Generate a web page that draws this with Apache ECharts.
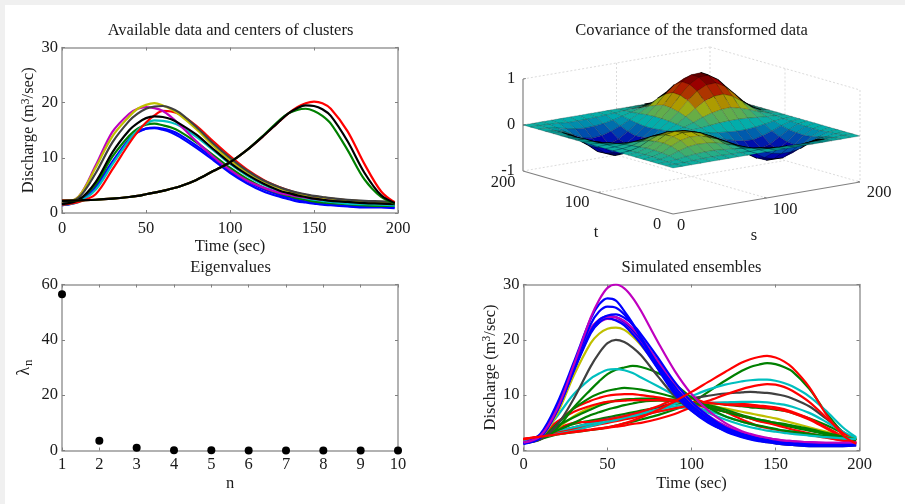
<!DOCTYPE html>
<html>
<head>
<meta charset="utf-8">
<style>
  html, body { margin: 0; padding: 0; background: #fff; }
  #main { width: 905px; height: 504px; }
</style>
<script src="https://cdn.jsdelivr.net/npm/echarts@6/dist/echarts.min.js"></script>
</head>
<body>
<div id="main"></div>
<script>
// sample times shared by every hydrograph, closer around the two humps
var times = [0, 10, 20, 30, 40, 45, 50, 55, 60, 65, 70, 80, 90, 100, 110, 120, 130, 135, 140, 145, 150, 155, 160, 170, 180, 190, 198]

// top left: available data and cluster centres
var dataBlueA = [1.4, 2.1, 4.6, 9.1, 13.2, 14.6, 15.3, 15.5, 15.3, 14.9, 14.2, 12.2, 10.0, 7.7, 5.8, 4.3, 3.2, 2.8, 2.4, 2.1, 1.9, 1.7, 1.5, 1.3, 1.2, 1.1, 1.0]
var dataBlueB = [1.4, 2.2, 4.9, 9.3, 13.4, 14.7, 15.3, 15.4, 15.1, 14.6, 13.8, 11.8, 9.6, 7.3, 5.4, 3.9, 2.9, 2.5, 2.1, 1.9, 1.7, 1.5, 1.4, 1.2, 1.0, 1.0, 0.9]
var dataGreenEarly = [1.5, 2.4, 5.2, 10.2, 14.0, 15.3, 16.0, 16.2, 15.9, 15.5, 14.8, 12.8, 10.5, 8.2, 6.2, 4.6, 3.5, 3.1, 2.7, 2.4, 2.1, 1.9, 1.8, 1.6, 1.4, 1.3, 1.3]
var dataRedEarly = [1.5, 2.0, 3.4, 7.9, 12.6, 14.7, 16.4, 17.7, 18.5, 18.4, 17.9, 15.8, 13.0, 10.3, 7.9, 6.0, 4.6, 4.1, 3.6, 3.3, 3.0, 2.8, 2.6, 2.3, 2.1, 1.9, 1.8]
var dataCyan = [1.5, 2.0, 4.2, 8.8, 13.2, 15.0, 16.2, 16.8, 16.7, 16.4, 15.8, 13.8, 11.4, 8.9, 6.8, 5.1, 3.9, 3.4, 3.0, 2.7, 2.4, 2.2, 2.0, 1.7, 1.6, 1.5, 1.4]
var dataMagenta = [1.6, 3.0, 8.6, 14.7, 18.0, 18.9, 19.2, 19.0, 18.5, 17.4, 16.0, 13.0, 10.2, 7.8, 5.9, 4.6, 3.6, 3.3, 3.0, 2.8, 2.6, 2.4, 2.3, 2.1, 1.9, 1.8, 1.7]
var dataYellow = [1.7, 3.0, 8.2, 13.9, 17.5, 18.9, 19.6, 19.9, 19.5, 18.8, 17.8, 15.2, 12.2, 9.6, 7.4, 5.7, 4.4, 3.9, 3.5, 3.2, 3.0, 2.8, 2.6, 2.3, 2.1, 2.0, 1.9]
var dataGrey = [1.7, 2.8, 7.2, 12.8, 16.7, 18.0, 18.9, 19.3, 19.4, 19.0, 18.2, 15.6, 12.6, 10.0, 7.7, 5.9, 4.6, 4.1, 3.7, 3.4, 3.1, 2.9, 2.7, 2.4, 2.2, 2.1, 2.0]
var centerEarly = [1.6, 2.4, 5.6, 11.0, 15.0, 16.3, 17.2, 17.5, 17.4, 17.0, 16.2, 14.2, 11.6, 9.1, 7.0, 5.3, 4.0, 3.6, 3.2, 2.9, 2.6, 2.4, 2.2, 2.0, 1.8, 1.7, 1.6]
var dataRedLate = [2.3, 2.3, 2.4, 2.6, 2.9, 3.1, 3.4, 3.7, 4.0, 4.4, 4.8, 6.0, 7.6, 9.2, 11.4, 14.0, 16.8, 18.1, 19.2, 19.9, 20.2, 19.9, 18.9, 14.8, 8.9, 3.9, 1.9]
var dataGreenLate = [2.2, 2.3, 2.4, 2.6, 2.9, 3.1, 3.4, 3.7, 4.0, 4.4, 4.8, 6.0, 7.6, 9.2, 11.4, 14.1, 17.0, 18.1, 18.7, 18.9, 18.5, 17.6, 16.2, 11.4, 6.1, 2.9, 1.7]
var centerLate = [2.2, 2.3, 2.4, 2.6, 2.9, 3.1, 3.4, 3.7, 4.0, 4.4, 4.8, 6.0, 7.6, 9.2, 11.4, 14.0, 16.8, 18.1, 19.0, 19.5, 19.4, 18.8, 17.6, 13.0, 7.3, 3.2, 1.8]

// bottom left: eigenvalues
var eigenN = [1, 2, 3, 4, 5, 6, 7, 8, 9, 10]
var eigenValues = [56.5, 3.5, 1.0, 0.1, 0.05, 0, 0, 0, 0, 0]

// bottom right: simulated ensembles
var simMagentaA = [1.4, 2.6, 7.5, 15.5, 24.0, 27.2, 29.4, 30.0, 29.3, 27.6, 25.2, 19.6, 14.4, 10.2, 7.2, 5.0, 3.5, 3.0, 2.6, 2.3, 2.0, 1.8, 1.7, 1.5, 1.4, 1.4, 1.4]
var simMagentaB = [1.5, 2.6, 7.4, 15.0, 22.0, 23.6, 24.2, 24.1, 23.4, 22.1, 20.4, 16.2, 12.2, 8.8, 6.3, 4.5, 3.2, 2.8, 2.5, 2.2, 2.0, 1.8, 1.7, 1.5, 1.4, 1.4, 1.4]
var simMagentaC = [1.4, 2.5, 7.2, 14.5, 21.4, 23.1, 23.8, 23.6, 22.8, 21.4, 19.6, 15.4, 11.4, 8.2, 5.8, 4.2, 3.0, 2.6, 2.3, 2.0, 1.8, 1.6, 1.5, 1.4, 1.3, 1.3, 1.3]
var simBlueA = [1.3, 3.0, 8.5, 16.0, 23.8, 26.4, 27.5, 27.1, 25.2, 23.0, 20.3, 14.8, 10.2, 7.2, 5.0, 3.6, 2.6, 2.3, 2.0, 1.8, 1.6, 1.4, 1.3, 1.2, 1.2, 1.3, 1.4]
var simBlueB = [1.3, 2.5, 7.8, 15.4, 22.8, 25.1, 26.0, 25.8, 24.6, 22.7, 20.4, 15.4, 11.0, 7.8, 5.6, 3.9, 2.8, 2.4, 2.1, 1.9, 1.7, 1.5, 1.4, 1.3, 1.2, 1.2, 1.3]
var simBlueC = [1.3, 2.3, 7.2, 14.6, 21.6, 23.6, 24.4, 24.6, 24.0, 22.8, 21.0, 16.8, 12.4, 8.8, 6.2, 4.2, 3.0, 2.6, 2.2, 1.9, 1.7, 1.5, 1.4, 1.2, 1.1, 1.1, 1.2]
var simBlueD = [1.3, 2.4, 7.4, 14.6, 21.6, 23.5, 24.3, 24.1, 23.2, 21.8, 20.0, 15.8, 11.6, 8.2, 5.8, 4.0, 2.8, 2.4, 2.0, 1.7, 1.5, 1.3, 1.2, 1.0, 0.9, 0.9, 1.0]
var simBlueE = [1.2, 2.3, 7.2, 14.4, 21.2, 23.1, 23.9, 23.5, 22.6, 21.0, 19.2, 14.8, 10.6, 7.4, 5.2, 3.5, 2.4, 2.0, 1.7, 1.5, 1.3, 1.1, 1.0, 0.8, 0.8, 0.8, 0.9]
var simYellowHigh = [1.4, 2.3, 6.6, 13.6, 19.4, 21.1, 22.0, 22.2, 21.8, 20.6, 19.0, 15.2, 11.4, 8.3, 6.0, 4.2, 3.0, 2.6, 2.3, 2.1, 1.9, 1.7, 1.6, 1.4, 1.3, 1.3, 1.3]
var simYellowFlat = [1.5, 2.1, 4.0, 6.2, 7.8, 8.4, 8.8, 9.0, 9.2, 9.3, 9.3, 9.2, 9.0, 8.6, 8.2, 7.6, 7.0, 6.7, 6.4, 6.1, 5.8, 5.4, 5.0, 4.2, 3.4, 2.6, 2.0]
var simGreyHigh = [1.4, 2.0, 4.6, 9.4, 15.2, 17.6, 19.4, 20.0, 19.6, 18.6, 17.2, 13.4, 9.8, 7.2, 5.2, 3.6, 2.5, 2.1, 1.8, 1.5, 1.3, 1.1, 1.0, 0.8, 0.8, 0.8, 0.9]
var simGreyLate = [1.6, 2.4, 3.4, 4.2, 5.0, 5.4, 5.8, 6.0, 6.3, 6.6, 7.0, 7.8, 8.6, 9.4, 9.9, 10.3, 10.5, 10.6, 10.5, 10.4, 10.2, 9.9, 9.4, 8.0, 5.8, 3.4, 1.9]
var simCyanEarly = [1.6, 2.6, 6.2, 10.2, 13.0, 13.9, 14.6, 14.7, 14.5, 14.0, 13.2, 11.6, 10.0, 8.4, 6.8, 5.6, 4.6, 4.2, 3.9, 3.6, 3.4, 3.2, 3.0, 2.7, 2.4, 2.2, 2.1]
var simCyanLate = [1.7, 2.4, 3.0, 3.6, 4.4, 4.8, 5.2, 5.5, 5.9, 6.2, 6.6, 7.4, 8.4, 9.8, 11.0, 11.9, 12.5, 12.7, 12.8, 12.8, 12.6, 12.2, 11.6, 9.8, 7.2, 4.2, 2.4]
var simCyanFlat = [1.8, 2.5, 3.4, 4.2, 4.9, 5.2, 5.6, 5.9, 6.2, 6.5, 6.8, 7.4, 8.0, 8.4, 8.6, 8.7, 8.8, 8.8, 8.8, 8.7, 8.5, 8.3, 7.9, 6.8, 5.2, 3.4, 2.2]
var simCyanLow = [1.7, 2.4, 3.2, 3.9, 4.6, 4.9, 5.2, 5.5, 5.8, 6.1, 6.4, 7.0, 7.6, 7.8, 7.2, 6.2, 5.2, 4.8, 4.4, 4.1, 3.8, 3.6, 3.4, 3.0, 2.6, 2.3, 2.1]
var simGreenHigh = [1.4, 2.0, 4.0, 7.8, 11.0, 12.5, 13.8, 14.6, 15.0, 15.3, 15.1, 14.0, 12.0, 9.6, 7.8, 6.2, 5.2, 4.8, 4.5, 4.2, 3.9, 3.6, 3.4, 3.0, 2.6, 2.2, 2.0]
var simGreenMid = [1.4, 2.2, 4.8, 7.6, 9.6, 10.3, 10.8, 11.1, 11.3, 11.2, 11.0, 10.4, 9.6, 8.7, 7.8, 7.0, 6.2, 5.9, 5.6, 5.3, 5.0, 4.8, 4.5, 3.9, 3.2, 2.5, 2.0]
var simGreenFlatA = [1.4, 2.4, 4.4, 6.0, 7.4, 8.1, 8.6, 9.0, 9.2, 9.3, 9.4, 9.4, 9.2, 8.8, 8.2, 7.4, 6.4, 6.0, 5.6, 5.3, 5.0, 4.7, 4.4, 3.8, 3.0, 2.4, 2.0]
var simGreenFlatB = [1.5, 2.2, 3.6, 5.0, 6.4, 6.9, 7.4, 7.8, 8.2, 8.5, 8.8, 9.0, 9.0, 8.7, 7.9, 7.0, 6.2, 5.8, 5.4, 5.1, 4.8, 4.5, 4.2, 3.6, 2.9, 2.3, 1.9]
var simGreenSlow = [1.4, 2.2, 3.6, 4.8, 5.4, 5.7, 6.0, 6.3, 6.6, 6.9, 7.2, 7.8, 8.4, 8.7, 8.6, 8.3, 8.0, 7.8, 7.7, 7.6, 7.4, 7.2, 6.8, 5.8, 4.6, 3.2, 2.2]
var simGreenLate = [1.5, 2.1, 2.9, 3.3, 3.7, 3.9, 4.2, 4.5, 4.9, 5.2, 5.6, 6.4, 7.4, 8.6, 10.6, 12.6, 14.4, 15.1, 15.5, 15.8, 15.6, 15.1, 14.3, 11.2, 6.9, 3.3, 1.8]
var simRedEarly = [2.0, 2.6, 5.0, 7.6, 9.0, 9.5, 9.9, 10.1, 10.2, 10.2, 10.0, 9.6, 9.0, 8.4, 7.7, 7.0, 6.2, 5.8, 5.3, 5.0, 4.6, 4.2, 3.8, 3.1, 2.4, 1.8, 1.4]
var simRedFlat = [1.9, 2.7, 5.2, 7.0, 8.1, 8.5, 8.8, 8.9, 9.0, 9.1, 9.1, 9.1, 9.0, 8.8, 8.6, 8.3, 8.1, 8.0, 7.9, 7.7, 7.5, 7.2, 6.8, 5.6, 4.0, 2.4, 1.4]
var simRedHump = [2.0, 2.6, 4.0, 5.0, 5.2, 5.4, 5.6, 5.9, 6.2, 6.6, 7.0, 8.0, 9.2, 9.4, 8.4, 7.0, 5.6, 5.0, 4.4, 4.1, 3.8, 3.5, 3.2, 2.8, 2.3, 1.8, 1.4]
var simRedSlow = [2.1, 2.5, 3.0, 3.3, 3.7, 3.9, 4.1, 4.3, 4.5, 4.8, 5.0, 5.7, 6.6, 7.8, 8.6, 8.6, 8.4, 8.3, 8.1, 8.0, 7.8, 7.5, 7.0, 5.8, 4.2, 2.6, 1.4]
var simRedMid = [2.0, 2.5, 3.2, 3.8, 4.4, 4.7, 5.0, 5.3, 5.6, 5.9, 6.3, 7.0, 7.6, 8.2, 9.0, 10.1, 11.1, 11.5, 11.8, 12.0, 11.9, 11.5, 10.8, 8.8, 6.0, 3.2, 1.8]
var simRedLate = [2.1, 2.5, 2.9, 3.4, 3.8, 4.0, 4.2, 4.5, 4.9, 5.4, 6.0, 7.3, 8.9, 10.6, 12.4, 14.2, 15.9, 16.5, 16.9, 17.1, 16.8, 16.1, 15.0, 11.5, 6.6, 2.8, 1.2]

// top right: covariance surface, rows are t = 0, 10 .. 200, columns are s = 0, 10 .. 200
var gridStep = 10
var covariance = [
  [0, 0, 0, 0, 0, 0, 0, 0, 0, 0, 0, 0, 0, 0, 0, 0, 0, 0, 0, 0, 0],
  [0, 0, 0, .01, .02, .02, .02, .01, .01, 0, 0, -.01, -.02, -.02, -.03, -.03, -.02, -.02, -.01, 0, 0],
  [0, 0, .02, .05, .07, .08, .08, .06, .04, .02, -.01, -.04, -.08, -.11, -.13, -.13, -.11, -.07, -.04, -.01, 0],
  [0, .01, .05, .12, .18, .20, .19, .16, .10, .04, -.03, -.10, -.19, -.27, -.31, -.31, -.27, -.18, -.09, -.02, 0],
  [0, .02, .07, .18, .27, .31, .30, .24, .16, .06, -.04, -.16, -.29, -.41, -.47, -.48, -.41, -.28, -.13, -.04, 0],
  [0, .02, .08, .20, .31, .36, .34, .28, .18, .07, -.05, -.18, -.34, -.47, -.55, -.55, -.47, -.32, -.15, -.04, 0],
  [0, .02, .08, .19, .30, .34, .32, .26, .17, .07, -.05, -.17, -.32, -.44, -.52, -.52, -.44, -.30, -.14, -.04, 0],
  [0, .01, .06, .16, .24, .28, .26, .21, .14, .06, -.04, -.14, -.26, -.36, -.42, -.42, -.36, -.24, -.12, -.03, 0],
  [0, .01, .04, .10, .16, .18, .17, .14, .09, .04, -.02, -.09, -.17, -.23, -.27, -.28, -.23, -.16, -.08, -.02, 0],
  [0, 0, .02, .04, .06, .07, .07, .06, .04, .01, -.01, -.04, -.07, -.09, -.11, -.11, -.09, -.06, -.03, -.01, 0],
  [0, 0, -.01, -.03, -.04, -.05, -.05, -.04, -.02, -.01, .01, .02, .04, .06, .07, .07, .06, .04, .02, .01, 0],
  [0, -.01, -.04, -.10, -.16, -.18, -.17, -.14, -.09, -.04, .02, .09, .17, .23, .27, .28, .23, .16, .08, .02, 0],
  [0, -.02, -.08, -.19, -.29, -.34, -.32, -.26, -.17, -.07, .04, .17, .31, .44, .51, .52, .44, .30, .14, .04, 0],
  [0, -.02, -.11, -.27, -.41, -.47, -.44, -.36, -.23, -.09, .06, .23, .44, .61, .71, .72, .61, .41, .20, .05, 0],
  [0, -.03, -.13, -.31, -.47, -.55, -.52, -.42, -.27, -.11, .07, .27, .51, .71, .83, .84, .71, .48, .23, .06, 0],
  [0, -.03, -.13, -.31, -.48, -.55, -.52, -.42, -.28, -.11, .07, .28, .52, .72, .84, .85, .72, .49, .23, .06, 0],
  [0, -.02, -.11, -.27, -.41, -.47, -.44, -.36, -.23, -.09, .06, .23, .44, .61, .71, .72, .61, .41, .20, .05, 0],
  [0, -.02, -.07, -.18, -.28, -.32, -.30, -.24, -.16, -.06, .04, .16, .30, .41, .48, .49, .41, .28, .13, .04, 0],
  [0, -.01, -.04, -.09, -.13, -.15, -.14, -.12, -.08, -.03, .02, .08, .14, .20, .23, .23, .20, .13, .06, .02, 0],
  [0, 0, -.01, -.02, -.04, -.04, -.04, -.03, -.02, -.01, .01, .02, .04, .05, .06, .06, .05, .04, .02, 0, 0],
  [0, 0, 0, 0, 0, 0, 0, 0, 0, 0, 0, 0, 0, 0, 0, 0, 0, 0, 0, 0, 0]
]
var surfaceMin = -0.55
var surfaceMax = 0.85

var FONT = '"Liberation Serif", "Times New Roman", serif'
var TEXT = '#1a1a1a'
var AXIS = '#999999'
var BLUE = '#0000ff'
var GREEN = '#008000'
var RED = '#ff0000'
var CYAN = '#00bfbf'
var MAGENTA = '#bf00bf'
var YELLOW = '#bfbf00'
var GREY = '#404040'
var BLACK = '#000000'

var chart = echarts.init(document.getElementById('main'))

// position of (s, t, z) in the hidden grid, whose axes run in box units
function project(s, t, z) {
  return [173 + 0.935 * s - 0.75 * t, 26 + 0.16 * s + 0.215 * t + 46 * (z + 1)]
}

// jet colormap, shade darkens it like the black mesh of the original
function jet(v, shade) {
  var f = Math.max(0, Math.min(1, (v - surfaceMin) / (surfaceMax - surfaceMin)))
  var r = Math.max(0, Math.min(1, 1.5 - Math.abs(4 * f - 3)))
  var g = Math.max(0, Math.min(1, 1.5 - Math.abs(4 * f - 2)))
  var b = Math.max(0, Math.min(1, 1.5 - Math.abs(4 * f - 1)))
  return 'rgb(' + Math.round(r * 255 * shade) + ',' + Math.round(g * 255 * shade) + ',' + Math.round(b * 255 * shade) + ')'
}

function polygonArea(pts) {
  var sum = 0
  for (var i = 0; i < pts.length; i++) {
    var n = pts[(i + 1) % pts.length]
    sum += pts[i][0] * n[1] - n[0] * pts[i][1]
  }
  return Math.abs(sum) / 2
}

function axisPair(gridIndex, type, opt) {
  var isX = type === 'x'
  var base = {
    gridIndex: gridIndex,
    type: 'value',
    min: opt.min,
    max: opt.max,
    interval: opt.interval,
    splitLine: { show: false },
    axisLine: { show: true, onZero: false, lineStyle: { color: AXIS, width: 1.5 } },
    axisTick: { show: true, inside: true, length: 3, lineStyle: { color: '#808080' } }
  }
  return [
    Object.assign({}, base, {
      position: isX ? 'bottom' : 'left',
      name: opt.name,
      nameLocation: 'middle',
      nameGap: opt.nameGap,
      nameTextStyle: {
        fontFamily: FONT,
        fontSize: 16.5,
        color: TEXT,
        rich: {
          txt: { fontFamily: FONT, fontSize: 16.5, color: TEXT },
          lam: { fontFamily: FONT, fontSize: 18, color: TEXT },
          sup: { fontFamily: FONT, fontSize: 11.5, color: TEXT, padding: [0, 0, 7, 0] },
          sub: { fontFamily: FONT, fontSize: 13, color: TEXT, padding: [9, 0, 0, 1] }
        }
      },
      axisLabel: { fontFamily: FONT, fontSize: 16.5, color: TEXT, margin: opt.margin || 4, hideOverlap: false, showMinLabel: true, showMaxLabel: true }
    }),
    Object.assign({}, base, {
      position: isX ? 'top' : 'right',
      axisLabel: { show: false }
    })
  ]
}

function curve(gridIndex, color, values) {
  // first axis of each grid, grids carry 2 x axes and 2 y axes
  return {
    type: 'line',
    xAxisIndex: gridIndex * 2,
    yAxisIndex: gridIndex * 2,
    data: times.map(function (t, i) { return [t, values[i]] }),
    showSymbol: false,
    smooth: 0.33,
    silent: true,
    animation: false,
    lineStyle: { color: color, width: 2.2 }
  }
}

var cells = []
for (var row = covariance.length - 2; row >= 0; row--) {
  for (var col = covariance[0].length - 2; col >= 0; col--) {
    cells.push([row, col])
  }
}

var xAxes = [].concat(
  axisPair(0, 'x', { min: 0, max: 200, interval: 50, name: 'Time (sec)', nameGap: 25, margin: 7 }),
  axisPair(1, 'x', { min: 1, max: 10, interval: 1, name: 'n', nameGap: 25, margin: 6 }),
  axisPair(2, 'x', { min: 0, max: 400 }),
  axisPair(3, 'x', { min: 0, max: 200, interval: 50, name: 'Time (sec)', nameGap: 25, margin: 6 })
)
var yAxes = [].concat(
  axisPair(0, 'y', { min: 0, max: 30, interval: 10, name: '{txt|Discharge (m}{sup|3}{txt|/sec)}', nameGap: 20 }),
  axisPair(1, 'y', { min: 0, max: 60, interval: 20, name: '{lam|\u03bb}{sub|n}', nameGap: 27 }),
  axisPair(2, 'y', { min: 0, max: 200 }),
  axisPair(3, 'y', { min: 0, max: 30, interval: 10, name: '{txt|Discharge (m}{sup|3}{txt|/sec)}', nameGap: 20 })
)
// the 3d box grid only supplies a scale
;[4, 5].forEach(function (i) {
  xAxes[i].show = false
  yAxes[i].show = false
})

// axes of the 3d box, each entry is a pair of (s, t, z) ends
var backLines = [
  [[0, 200, 1], [200, 200, 1]], [[200, 200, 1], [200, 0, 1]],
  [[200, 200, 1], [200, 200, -1]], [[200, 0, 1], [200, 0, -1]],
  [[0, 200, -1], [200, 200, -1]], [[200, 200, -1], [200, 0, -1]],
  [[100, 200, 1], [100, 200, -1]], [[200, 100, 1], [200, 100, -1]],
  [[0, 200, 0], [200, 200, 0]], [[200, 200, 0], [200, 0, 0]],
  [[100, 0, -1], [100, 200, -1]], [[0, 100, -1], [200, 100, -1]]
]
var boxAxes = [
  [[0, 200, 1], [0, 200, -1]], [[0, 200, -1], [0, 0, -1]], [[0, 0, -1], [200, 0, -1]]
]
var boxTicks = [
  [[0, 200, 1], [3, 200, 1]], [[0, 200, 0], [3, 200, 0]],
  [[0, 100, -1], [3, 100, -1]], [[100, 0, -1], [100, 3, -1]], [[200, 0, -1], [200, 3, -1]]
]

var boxLabels = [
  ['1', 511, 79], ['0', 511, 125], ['-1', 508, 171],
  ['200', 503, 183], ['100', 577, 203], ['0', 657, 225],
  ['0', 681, 226], ['100', 785, 210], ['200', 879, 193],
  ['t', 596, 233], ['s', 754, 236]
]

function segmentItems(api, list, stroke, width, dash) {
  return list.map(function (seg) {
    var a = api.coord(project.apply(null, seg[0]))
    var b = api.coord(project.apply(null, seg[1]))
    return {
      type: 'line',
      shape: { x1: a[0], y1: a[1], x2: b[0], y2: b[1] },
      style: { stroke: stroke, lineWidth: width, lineDash: dash || null }
    }
  })
}

var series = [
  curve(0, BLUE, dataBlueA), curve(0, BLUE, dataBlueB), curve(0, GREEN, dataGreenEarly),
  curve(0, CYAN, dataCyan), curve(0, RED, dataRedEarly), curve(0, MAGENTA, dataMagenta),
  curve(0, YELLOW, dataYellow), curve(0, GREY, dataGrey), curve(0, BLACK, centerEarly),
  curve(0, RED, dataRedLate), curve(0, GREEN, dataGreenLate), curve(0, BLACK, centerLate),
  {
    type: 'scatter',
    xAxisIndex: 2,
    yAxisIndex: 2,
    clip: false,
    silent: true,
    animation: false,
    symbolSize: 8,
    itemStyle: { color: '#000', opacity: 1 },
    data: eigenN.map(function (n, i) { return [n, eigenValues[i]] })
  },
  {
    // box behind the surface
    type: 'custom',
    xAxisIndex: 4,
    yAxisIndex: 4,
    silent: true,
    animation: false,
    data: [[0, 0]],
    renderItem: function (params, api) {
      return {
        type: 'group',
        children: segmentItems(api, backLines, '#dcdcdc', 1, [2, 2])
          .concat(segmentItems(api, boxAxes, '#808080', 1.2))
          .concat(segmentItems(api, boxTicks, '#808080', 1))
      }
    }
  },
  {
    // surface cells, back to front
    type: 'custom',
    xAxisIndex: 4,
    yAxisIndex: 4,
    silent: true,
    animation: false,
    clip: false,
    data: cells,
    renderItem: function (params, api) {
      var r = api.value(0)
      var c = api.value(1)
      var zs = [covariance[r][c], covariance[r][c + 1], covariance[r + 1][c + 1], covariance[r + 1][c]]
      var corners = [
        [c, r], [c + 1, r], [c + 1, r + 1], [c, r + 1]
      ].map(function (p, k) {
        return api.coord(project(p[0] * gridStep, p[1] * gridStep, zs[k]))
      })
      // squeezed cells read darker, as the dense mesh does near the folds
      var squeeze = Math.min(1, polygonArea(corners) / 30)
      var fold = squeeze < 0.35
      return {
        type: 'polygon',
        shape: { points: corners },
        style: {
          fill: jet((zs[0] + zs[1] + zs[2] + zs[3]) / 4, 0.12 + 0.56 * squeeze),
          stroke: fold ? '#000' : 'rgba(0,0,0,0.35)',
          lineWidth: fold ? 1.4 : 0.5
        }
      }
    }
  },
  curve(3, GREEN, simGreenLate), curve(3, GREEN, simGreenSlow), curve(3, CYAN, simCyanLow),
  curve(3, RED, simRedSlow), curve(3, GREY, simGreyLate), curve(3, CYAN, simCyanFlat),
  curve(3, RED, simRedMid), curve(3, CYAN, simCyanLate), curve(3, RED, simRedHump),
  curve(3, YELLOW, simYellowFlat), curve(3, GREEN, simGreenFlatB), curve(3, GREEN, simGreenFlatA),
  curve(3, RED, simRedFlat), curve(3, RED, simRedEarly), curve(3, GREEN, simGreenMid),
  curve(3, GREEN, simGreenHigh), curve(3, CYAN, simCyanEarly), curve(3, GREY, simGreyHigh),
  curve(3, YELLOW, simYellowHigh), curve(3, MAGENTA, simMagentaC), curve(3, BLUE, simBlueE),
  curve(3, BLUE, simBlueD), curve(3, MAGENTA, simMagentaB), curve(3, BLUE, simBlueC),
  curve(3, BLUE, simBlueB), curve(3, BLUE, simBlueA), curve(3, MAGENTA, simMagentaA),
  curve(3, RED, simRedLate)
]

var titleStyle = { fontFamily: FONT, fontSize: 16.5, fontWeight: 'normal', color: TEXT }

chart.setOption({
  animation: false,
  backgroundColor: '#ffffff',
  title: [
    { text: 'Available data and centers of clusters', left: 230.5, top: 22, padding: 0, textAlign: 'center', textStyle: titleStyle },
    { text: 'Covariance of the transformed data', left: 691.5, top: 22, padding: 0, textAlign: 'center', textStyle: titleStyle },
    { text: 'Eigenvalues', left: 230.5, top: 259, padding: 0, textAlign: 'center', textStyle: titleStyle },
    { text: 'Simulated ensembles', left: 691.5, top: 259, padding: 0, textAlign: 'center', textStyle: titleStyle }
  ],
  grid: [
    { left: 62, top: 47.5, width: 336, height: 165.5 },
    { left: 62, top: 284.5, width: 336, height: 166 },
    { left: 500, top: 40, width: 400, height: 200 },
    { left: 523.5, top: 284.5, width: 336, height: 166 }
  ],
  xAxis: xAxes,
  yAxis: yAxes,
  graphic: [
    { type: 'rect', silent: true, z: 100, shape: { x: 0, y: 0, width: 905, height: 5 }, style: { fill: '#f0f0f0' } },
    { type: 'rect', silent: true, z: 100, shape: { x: 0, y: 0, width: 5, height: 504 }, style: { fill: '#f0f0f0' } }
  ].concat(boxLabels.map(function (b) {
    return {
      type: 'text',
      silent: true,
      x: b[1],
      y: b[2],
      style: { text: b[0], font: '16.5px ' + FONT, fill: TEXT, textAlign: 'center', textVerticalAlign: 'middle' }
    }
  })),
  series: series
})
</script>
</body>
</html>
